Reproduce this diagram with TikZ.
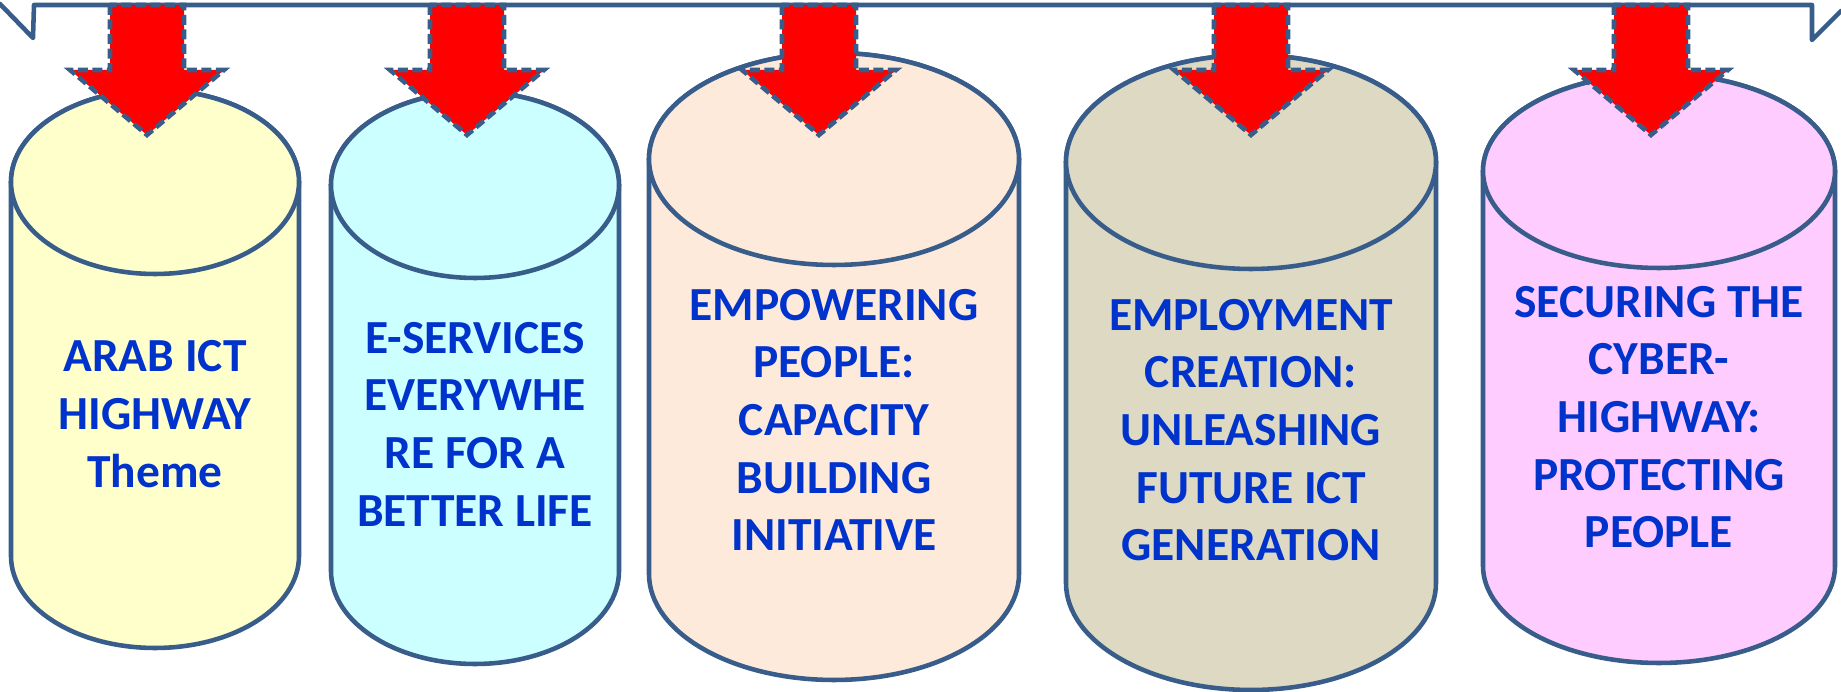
\documentclass[tikz,border=0pt]{standalone}
\usepackage{fontspec}
\setmainfont{Carlito}
\usepackage{xcolor}
\definecolor{edgeblue}{RGB}{56,93,138}
\definecolor{capblue}{RGB}{0,51,204}
\definecolor{drumyellow}{RGB}{255,255,204}
\definecolor{drumcyan}{RGB}{204,255,255}
\definecolor{drumpeach}{RGB}{253,234,218}
\definecolor{drumtan}{RGB}{221,217,195}
\definecolor{drumpink}{RGB}{255,204,255}

\begin{document}
\begin{tikzpicture}[x=0.01cm, y=0.01cm]
    % Define styles
    \tikzstyle{drum}=[draw=edgeblue, line width=1.3pt]
    \tikzstyle{pointer}=[draw=edgeblue, fill=red, line width=1.3pt, dash pattern=on 0.1cm off 0.045cm]
    \tikzstyle{drumtext}=[align=center, text=capblue, font=\fontsize{13.5}{16.4}\selectfont\bfseries, inner sep=0pt]
    \tikzstyle{bracket}=[draw=edgeblue, line width=1.3pt, line join=round, line cap=round]

    \useasboundingbox (0,0) rectangle (1841,692);

    % Top bracket
    \draw[bracket] (0,688) -- (33,654) -- (34,687) -- (1812,687) -- (1812,652) -- (1841,681);

    % Cylinder 1: ARAB ICT HIGHWAY
    \filldraw[drum, fill=drumyellow] (11,510) -- (11,136) arc[start angle=180, end angle=360, x radius=144, y radius=92] -- (299,510) arc[start angle=0, end angle=180, x radius=144, y radius=92] -- cycle;
    \draw[drum, fill=drumyellow] (155,510) ellipse [x radius=144, y radius=92];

    % Cylinder 2: E-SERVICES
    \filldraw[drum, fill=drumcyan] (331,507) -- (331,121) arc[start angle=180, end angle=360, x radius=144, y radius=93] -- (619,507) arc[start angle=0, end angle=180, x radius=144, y radius=93] -- cycle;
    \draw[drum, fill=drumcyan] (475,507) ellipse [x radius=144, y radius=93];

    % Cylinder 3: EMPOWERING PEOPLE
    \filldraw[drum, fill=drumpeach] (649,533) -- (649,118) arc[start angle=180, end angle=360, x radius=185, y radius=106] -- (1019,533) arc[start angle=0, end angle=180, x radius=185, y radius=106] -- cycle;
    \draw[drum, fill=drumpeach] (834,533) ellipse [x radius=185, y radius=106];

    % Cylinder 4: EMPLOYMENT CREATION
    \filldraw[drum, fill=drumtan] (1066,530) -- (1066,109) arc[start angle=180, end angle=360, x radius=185, y radius=107] -- (1436,530) arc[start angle=0, end angle=180, x radius=185, y radius=107] -- cycle;
    \draw[drum, fill=drumtan] (1251,530) ellipse [x radius=185, y radius=107];

    % Cylinder 5: SECURING THE CYBER-HIGHWAY
    \filldraw[drum, fill=drumpink] (1483,521) -- (1483,126) arc[start angle=180, end angle=360, x radius=176, y radius=97] -- (1835,521) arc[start angle=0, end angle=180, x radius=176, y radius=97] -- cycle;
    \draw[drum, fill=drumpink] (1659,521) ellipse [x radius=176, y radius=97];

    % Red arrows from the bracket down into each cylinder
    \draw[pointer] (110,687) -- (110,622) -- (70,622) -- (147,557) -- (224,622) -- (184,622) -- (184,687) -- cycle;
    \draw[pointer] (430,687) -- (430,622) -- (390,622) -- (467,557) -- (544,622) -- (504,622) -- (504,687) -- cycle;
    \draw[pointer] (782,687) -- (782,622) -- (742,622) -- (819,557) -- (896,622) -- (856,622) -- (856,687) -- cycle;
    \draw[pointer] (1214,687) -- (1214,622) -- (1174,622) -- (1251,557) -- (1328,622) -- (1288,622) -- (1288,687) -- cycle;
    \draw[pointer] (1614,687) -- (1614,622) -- (1574,622) -- (1651,557) -- (1728,622) -- (1688,622) -- (1688,687) -- cycle;

    % Texts
    \node[drumtext] (arab) at (155,278) {ARAB ICT\\HIGHWAY\\Theme};
    \node[drumtext] (eservices) at (475,268) {E-SERVICES\\EVERYWHE\\RE FOR A\\BETTER LIFE};
    \node[drumtext] (empower) at (834,272) {EMPOWERING\\PEOPLE:\\CAPACITY\\BUILDING\\INITIATIVE};
    \node[drumtext] (employ) at (1251,262) {EMPLOYMENT\\CREATION:\\UNLEASHING\\FUTURE ICT\\GENERATION};
    \node[drumtext] (secure) at (1659,275) {SECURING THE\\CYBER-\\HIGHWAY:\\PROTECTING\\PEOPLE};
\end{tikzpicture}
\end{document}
